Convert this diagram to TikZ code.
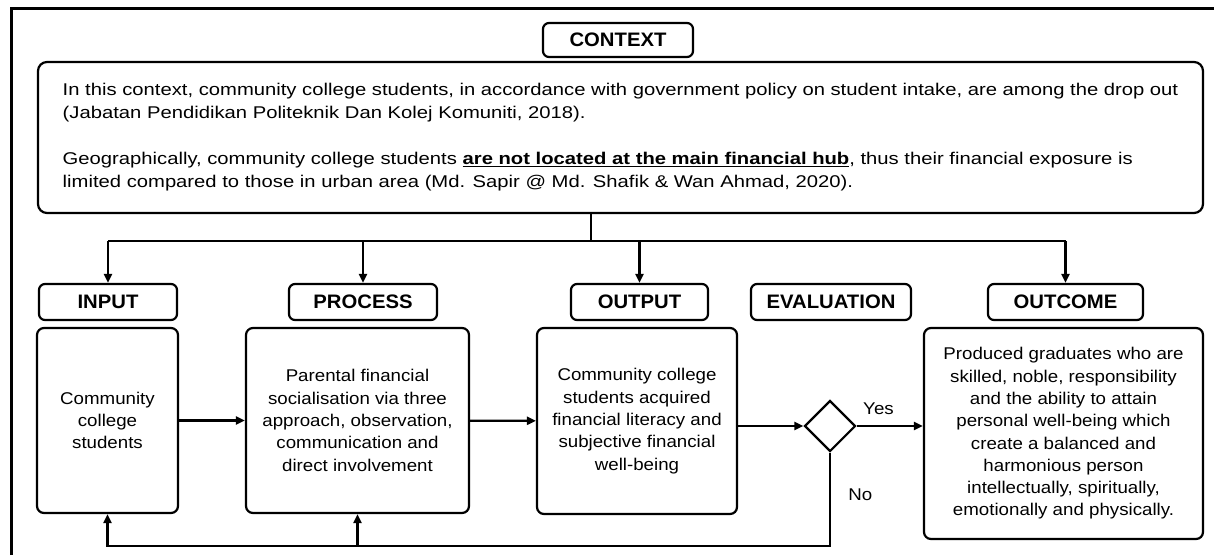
\documentclass[tikz,border=0pt]{standalone}
\usepackage{fontspec}
\setmainfont{Liberation Sans}
\newfontfamily\ctxfont[FakeStretch=1.19]{Liberation Sans}
\newfontfamily\boxfont[FakeStretch=1.1]{Liberation Sans}
\newfontfamily\tagfont[FakeStretch=1.04]{Liberation Sans}
\usetikzlibrary{arrows.meta,shapes,positioning,calc}

\begin{document}
\begin{tikzpicture}[>={Triangle[length=9pt,width=8pt]}, x=1pt, y=-1pt, line width=2.2pt,
    tag/.style={draw, rounded corners=6pt, minimum height=36pt, inner sep=0pt,
      font=\tagfont\fontsize{19.5}{23}\selectfont\bfseries},
    stage/.style={draw, rounded corners=7pt, inner sep=0pt, align=center,
      font=\boxfont\fontsize{17}{22.3}\selectfont},
    decision/.style={draw, diamond, minimum width=51pt, minimum height=51pt, inner sep=0pt},
    answer/.style={font=\boxfont\fontsize{17}{20}\selectfont}]
            \useasboundingbox (0,0) rectangle (1214,555);
            % frame
            \draw [line width=3pt] (11,555) -- (11,8) -- (1214,8);
            % context
            \node (ctxtag) [tag, minimum width=150pt, minimum height=34pt] at (618,40) {CONTEXT};
            \node (ctx) [stage, rounded corners=9pt, align=left, minimum width=1165pt, minimum height=151pt,
              font=\ctxfont\fontsize{17}{23}\selectfont]
              at (620.5,137.5) {In this context, community college students, in accordance with government policy on student intake, are among the drop out\\
              (Jabatan Pendidikan Politeknik Dan Kolej Komuniti, 2018).\\[23pt]
              Geographically, community college students \underline{\textbf{are not located at the main financial hub}}, thus their financial exposure is\\
              limited compared to those in urban area (Md. Sapir @ Md. Shafik \& Wan Ahmad, 2020).};
            % stage labels
            \node (intag)   [tag, minimum width=138pt] at (108,302)    {INPUT};
            \node (proctag) [tag, minimum width=148pt] at (363,302)    {PROCESS};
            \node (outtag)  [tag, minimum width=137pt] at (639.5,302)  {OUTPUT};
            \node (evaltag) [tag, minimum width=160pt] at (831,302)    {EVALUATION};
            \node (restag)  [tag, minimum width=155pt] at (1065.5,302) {OUTCOME};
            % stages
            \node (inbox)   [stage, minimum width=141pt, minimum height=185pt] at (107.5,420.5)
              {Community\\college\\students};
            \node (procbox) [stage, minimum width=223pt, minimum height=185pt] at (357.5,420.5)
              {Parental financial\\socialisation via three\\approach, observation,\\communication and\\direct involvement};
            \node (outbox)  [stage, minimum width=200pt, minimum height=186pt] at (637,421)
              {Community college\\students acquired\\financial literacy and\\subjective financial\\well-being};
            \node (check)   [decision] at (830,426) {};
            \node (resbox)  [stage, minimum width=279pt, minimum height=211pt] at (1063.5,433.5)
              {Produced graduates who are\\skilled, noble, responsibility\\and the ability to attain\\personal well-being which\\create a balanced and\\harmonious person\\intellectually, spiritually,\\emotionally and physically.};
            % context feeds every stage
            \coordinate (bus) at (591,241);
            \coordinate (fb) at (830,546);
            \draw (ctx.south -| bus) -- (bus);
            \draw (intag.north |- bus) -- (restag.north |- bus);
            \draw [->] (intag.north |- bus) -- (intag.north);
            \draw [->] (proctag.north |- bus) -- (proctag.north);
            \draw [->] (outtag.north |- bus) -- (outtag.north);
            \draw [->] (restag.north |- bus) -- (restag.north);
            % flow
            \draw [->] (inbox) -- (procbox);
            \draw [->] (procbox) -- (outbox);
            \draw [->] (outbox.east |- check) -- (check.west);
            \draw [->] (check.east) -- node (yes) [answer, above=7pt, pos=0.33] {Yes} (check.east -| resbox.west);
            % feedback
            \draw [->] (check.south) -- node (no) [answer, right=14pt, pos=0.45] {No} (fb) -| (inbox.south);
            \draw [->] (procbox.south |- fb) -- (procbox.south);
\end{tikzpicture}
\end{document}
